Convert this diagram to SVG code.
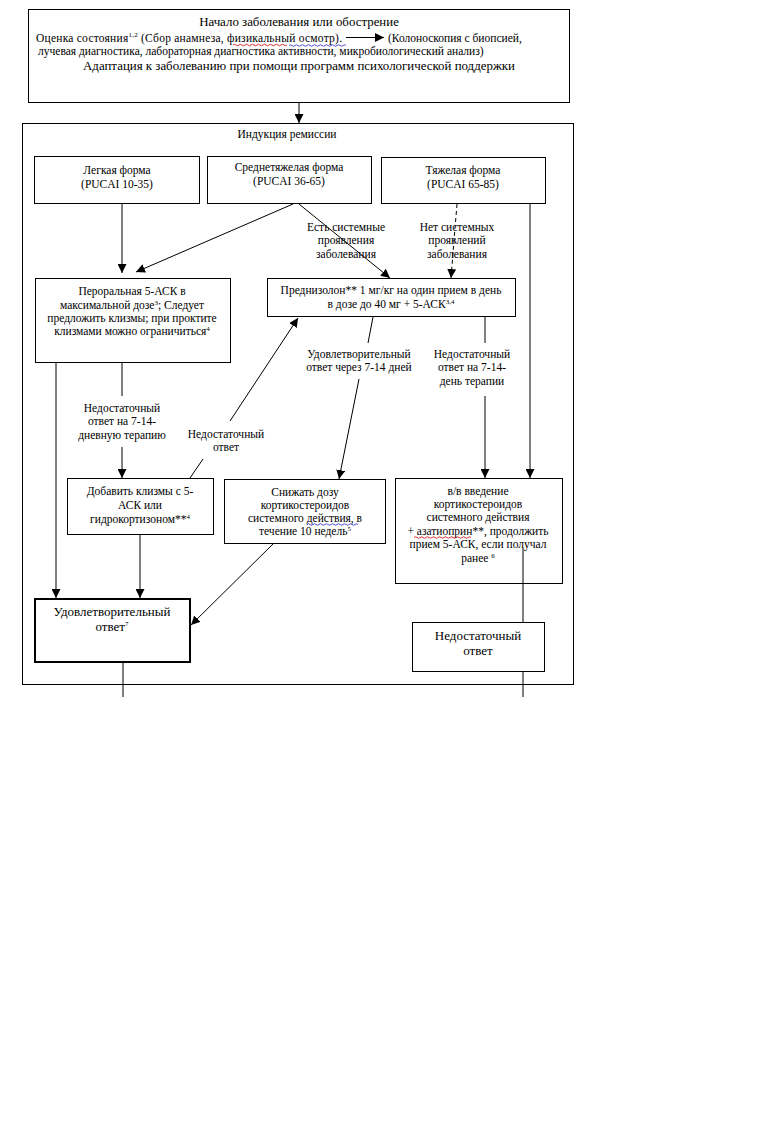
<svg xmlns="http://www.w3.org/2000/svg" width="770" height="1122" viewBox="0 0 770 1122">
<style>
.box{fill:#fff;stroke:#000;stroke-width:1}
.thick{fill:#fff;stroke:#000;stroke-width:2}
.t{font-family:"Liberation Serif","Times New Roman",serif;fill:#000}
.m{font-size:11.5px}
.l{font-size:12.9px}
.b{font-size:13px}
.tc{text-anchor:middle}
.sup{font-size:7px}
.ln{stroke:#000;stroke-width:1;fill:none}
.sq{fill:none;stroke-width:0.8}
</style>
<defs>
<marker id="ah" viewBox="0 0 10 10" refX="10" refY="5" markerWidth="9" markerHeight="9" markerUnits="userSpaceOnUse" orient="auto">
<path d="M0,0 L10,5 L0,10 z" fill="#000"/>
</marker>
</defs>
<rect width="770" height="1122" fill="#fff"/>

<g id="start">
<rect class="box" x="28.5" y="9.5" width="541" height="93"/>
<text class="t l tc" x="299" y="26">Начало заболевания или обострение</text>
<text class="t m" x="36" y="42" textLength="306" lengthAdjust="spacing">Оценка состояния<tspan class="sup" dy="-5">1,2</tspan><tspan dy="5"> (Сбор анамнеза, физикальный осмотр).</tspan></text>
<text class="t m" x="388" y="42">(Колоноскопия с биопсией,</text>
<text class="t m" x="38" y="55">лучевая диагностика, лабораторная диагностика активности, микробиологический анализ)</text>
<text class="t l tc" x="299" y="70">Адаптация к заболеванию при помощи программ психологической поддержки</text>
<path class="sq" stroke="#c00" d="M233,45 q1.5,-1.5 3,0 t3,0 t3,0 t3,0 t3,0 t3,0 t3,0 t3,0 t3,0 t3,0 t3,0 t3,0 t3,0 t3,0 t3,0 t3,0 t3,0 t3,0"/>
<path class="sq" stroke="#22c" d="M289,45.5 q1.5,-1.5 3,0 t3,0 t3,0 t3,0 t3,0 t3,0 t3,0 t3,0 t3,0 t3,0 t3,0 t3,0 t3,0 t3,0 t3,0 t3,0 t3,0 t3,0 t3,0"/>
</g>

<g id="induction">
<rect class="box" x="22.5" y="123.5" width="551" height="561" fill="none"/>
<text class="t m tc" x="287" y="138">Индукция ремиссии</text>
</g>

<g id="mild">
<rect class="box" x="34.5" y="156.5" width="165" height="47"/>
<text class="t m tc" x="117" y="174">Легкая форма</text>
<text class="t m tc" x="117" y="188">(PUCAI 10-35)</text>
</g>
<g id="moderate">
<rect class="box" x="207.5" y="156.5" width="164" height="47"/>
<text class="t m tc" x="289" y="171">Среднетяжелая форма</text>
<text class="t m tc" x="289" y="185">(PUCAI 36-65)</text>
</g>
<g id="severe">
<rect class="box" x="381.5" y="157.5" width="164" height="46"/>
<text class="t m tc" x="463" y="174">Тяжелая форма</text>
<text class="t m tc" x="463" y="188">(PUCAI 65-85)</text>
</g>

<g id="oral">
<rect class="box" x="35.5" y="278.5" width="195" height="84"/>
<text class="t m tc" x="132" y="295">Пероральная 5-АСК в</text>
<text class="t m tc" x="132" y="309">максимальной дозе<tspan class="sup" dy="-4">3</tspan><tspan dy="4">; Следует</tspan></text>
<text class="t m tc" x="132" y="322">предложить клизмы; при проктите</text>
<text class="t m tc" x="132" y="335">клизмами можно ограничиться<tspan class="sup" dy="-4">4</tspan></text>
</g>

<g id="prednisolone">
<rect class="box" x="267.5" y="278.5" width="248" height="38"/>
<text class="t m tc" x="391" y="294">Преднизолон** 1 мг/кг на один прием в день</text>
<text class="t m tc" x="391" y="308">в дозе до 40 мг + 5-АСК<tspan class="sup" dy="-4">3,4</tspan></text>
</g>

<g id="enemas">
<rect class="box" x="67.5" y="478.5" width="146" height="56"/>
<text class="t m tc" x="140" y="495">Добавить клизмы с 5-</text>
<text class="t m tc" x="140" y="509">АСК или</text>
<text class="t m tc" x="140" y="523">гидрокортизоном**<tspan class="sup" dy="-4">4</tspan></text>
</g>

<g id="taper">
<rect class="box" x="224.5" y="479.5" width="161" height="64"/>
<text class="t m tc" x="305" y="496">Снижать дозу</text>
<text class="t m tc" x="305" y="509">кортикостероидов</text>
<text class="t m tc" x="305" y="522">системного действия, в</text>
<text class="t m tc" x="305" y="535">течение 10 недель<tspan class="sup" dy="-4">5</tspan></text>
<path class="sq" stroke="#22c" d="M307,524.5 q1.5,-1.5 3,0 t3,0 t3,0 t3,0 t3,0 t3,0 t3,0 t3,0 t3,0 t3,0 t3,0 t3,0 t3,0 t3,0 t3,0 t3,0 t3,0"/>
</g>

<g id="iv">
<rect class="box" x="395.5" y="478.5" width="167" height="105"/>
<text class="t m tc" x="478" y="495">в/в введение</text>
<text class="t m tc" x="478" y="508">кортикостероидов</text>
<text class="t m tc" x="478" y="521">системного действия</text>
<text class="t m tc" x="478" y="535">+ азатиоприн**, продолжить</text>
<text class="t m tc" x="478" y="548">прием 5-АСК, если получал</text>
<text class="t m tc" x="478" y="562">ранее <tspan class="sup" dy="-4">6</tspan></text>
<path class="sq" stroke="#c00" d="M414,537.5 q1.5,-1.5 3,0 t3,0 t3,0 t3,0 t3,0 t3,0 t3,0 t3,0 t3,0 t3,0 t3,0 t3,0 t3,0 t3,0 t3,0 t3,0 t3,0 t3,0 t3,0"/>
</g>

<g id="satisfactory">
<rect class="thick" x="35" y="599" width="155" height="63"/>
<text class="t b tc" x="112" y="616">Удовлетворительный</text>
<text class="t b tc" x="112" y="631">ответ<tspan class="sup" dy="-5">7</tspan></text>
</g>

<g id="insufficient">
<rect class="box" x="412.5" y="622.5" width="132" height="49"/>
<text class="t b tc" x="478" y="640">Недостаточный</text>
<text class="t b tc" x="478" y="655">ответ</text>
</g>

<g id="labels">
<text class="t m tc" x="346" y="231">Есть системные</text>
<text class="t m tc" x="346" y="244">проявления</text>
<text class="t m tc" x="346" y="258">заболевания</text>
<text class="t m tc" x="457" y="231">Нет системных</text>
<text class="t m tc" x="457" y="244">проявлений</text>
<text class="t m tc" x="457" y="258">заболевания</text>
<text class="t m tc" x="122" y="412">Недостаточный</text>
<text class="t m tc" x="122" y="425">ответ на 7-14-</text>
<text class="t m tc" x="122" y="439">дневную терапию</text>
<text class="t m tc" x="226" y="438">Недостаточный</text>
<text class="t m tc" x="226" y="451">ответ</text>
<text class="t m tc" x="359" y="358">Удовлетворительный</text>
<text class="t m tc" x="359" y="371">ответ через 7-14 дней</text>
<text class="t m tc" x="472" y="358">Недостаточный</text>
<text class="t m tc" x="472" y="371">ответ на 7-14-</text>
<text class="t m tc" x="472" y="385">день терапии</text>
</g>

<g id="connectors">
<line class="ln" x1="346" y1="37.5" x2="384" y2="37.5" marker-end="url(#ah)"/>
<line class="ln" x1="299" y1="103" x2="299" y2="123" marker-end="url(#ah)"/>
<line class="ln" x1="122" y1="204" x2="122" y2="273" marker-end="url(#ah)"/>
<line class="ln" x1="293" y1="204" x2="136" y2="272" marker-end="url(#ah)"/>
<line class="ln" x1="299" y1="204" x2="390" y2="278" marker-end="url(#ah)"/>
<line class="ln" x1="457" y1="204" x2="451" y2="278" stroke-dasharray="4,3" marker-end="url(#ah)"/>
<line class="ln" x1="530" y1="204" x2="530" y2="478" marker-end="url(#ah)"/>
<line class="ln" x1="56" y1="363" x2="56" y2="598" marker-end="url(#ah)"/>
<line class="ln" x1="122" y1="363" x2="122" y2="396"/>
<line class="ln" x1="122" y1="447" x2="122" y2="478" marker-end="url(#ah)"/>
<line class="ln" x1="190" y1="478" x2="203" y2="459"/>
<line class="ln" x1="230" y1="421" x2="298" y2="318" marker-end="url(#ah)"/>
<line class="ln" x1="373" y1="317" x2="368" y2="343"/>
<line class="ln" x1="359" y1="379" x2="339" y2="479" marker-end="url(#ah)"/>
<line class="ln" x1="485" y1="317" x2="485" y2="343"/>
<line class="ln" x1="485" y1="396" x2="485" y2="478" marker-end="url(#ah)"/>
<line class="ln" x1="140" y1="535" x2="140" y2="598" marker-end="url(#ah)"/>
<line class="ln" x1="273" y1="544" x2="191" y2="625" marker-end="url(#ah)"/>
<line class="ln" x1="123" y1="663" x2="123" y2="697"/>
<line class="ln" x1="523" y1="548" x2="523" y2="622"/>
<line class="ln" x1="523" y1="672" x2="523" y2="697"/>
</g>
</svg>
